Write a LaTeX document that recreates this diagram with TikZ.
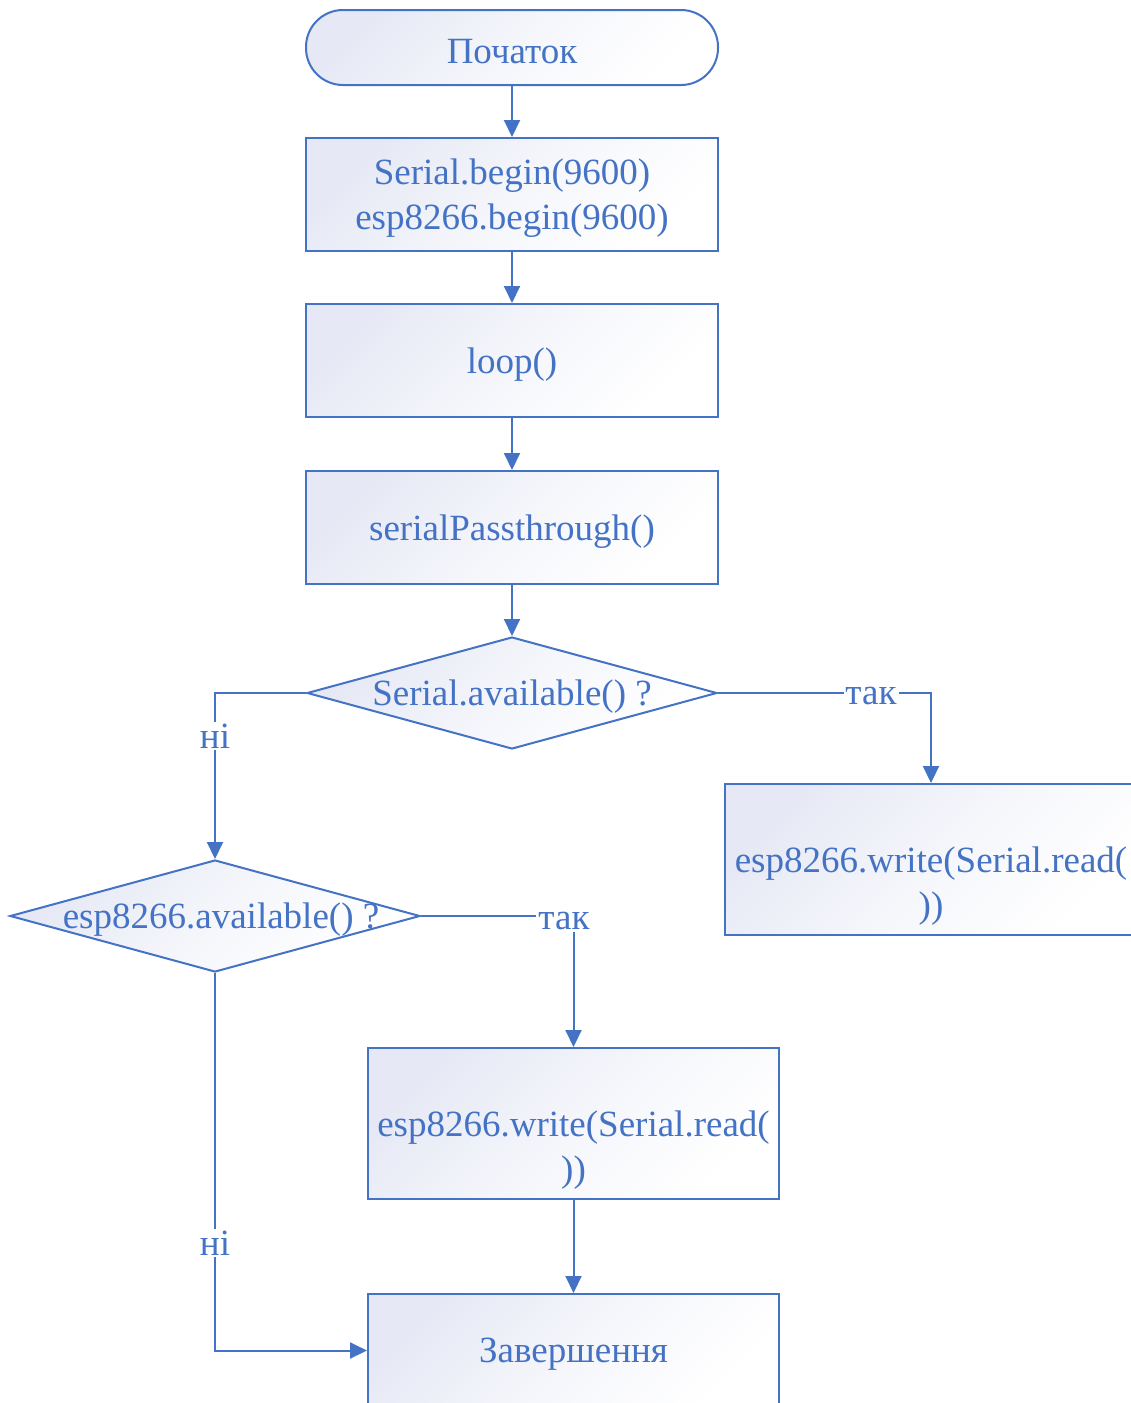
\documentclass[tikz,border=0pt]{standalone}
\usepackage{fontspec}
\setmainfont{Liberation Serif}
\usetikzlibrary{shapes.geometric,arrows.meta}
\definecolor{fcblue}{RGB}{68,114,196}
\definecolor{fcfill}{RGB}{230,233,245}
\begin{document}
\begin{tikzpicture}[x=1pt,y=1pt,
  txt/.style={text=fcblue,font=\fontsize{37}{45}\selectfont,align=center,inner sep=0pt},
  every label/.style={txt},
  shadebox/.style={draw=fcblue,line width=2pt,top color=fcfill,bottom color=white,middle color=white!60!fcfill,shading angle=45},
  procbox/.style={shadebox,rectangle,minimum width=412,minimum height=113},
  tallbox/.style={shadebox,rectangle,minimum width=412,minimum height=151},
  termbox/.style={shadebox,rectangle,rounded corners=37pt,minimum width=412,minimum height=75},
  decbox/.style={shadebox,diamond,minimum width=410,minimum height=112,inner sep=0pt},
  lbl/.style={txt,fill=white,inner sep=2pt},
  arr/.style={draw=fcblue,line width=2pt,-{Triangle[length=17pt,width=16pt]}}
]
\useasboundingbox (0,0) rectangle (1131,-1403);
\clip (0,0) rectangle (1131,-1403);
\fill[white] (0,0) rectangle (1131,-1403);

\node[termbox,label={[yshift=-4pt]center:Початок}] (start) at (512,-47.5) {};
\node[procbox,label={[yshift=-4pt]center:{Serial.begin(9600)\\esp8266.begin(9600)}}] (b1) at (512,-194.5) {};
\node[procbox,label={[yshift=-4pt]center:loop()}] (b2) at (512,-360.5) {};
\node[procbox,label={[yshift=-4pt]center:serialPassthrough()}] (b3) at (512,-527.5) {};
\node[decbox,label={[yshift=-4pt]center:Serial.available() ?}] (d1) at (512,-693) {};
\node[tallbox,label={[yshift=-26.5pt]center:{esp8266.write(Serial.read(\\))}}] (w1) at (931,-859.5) {};
\node[decbox,label={[xshift=6pt,yshift=-4pt]center:esp8266.available() ?}] (d2) at (215,-916) {};
\node[tallbox,minimum width=411,label={[yshift=-26.5pt]center:{esp8266.write(Serial.read(\\))}}] (w2) at (573.5,-1123.5) {};
\node[procbox,minimum width=411,label={[yshift=-4pt]center:Завершення}] (end) at (573.5,-1350.5) {};

\draw[arr] (start) -- (b1);
\draw[arr] (b1) -- (b2);
\draw[arr] (b2) -- (b3);
\draw[arr] (b3) -- (d1);
\draw[arr] (d1.west) -| (d2.north);
\draw[arr] (d1.east) -| (w1.north);
\draw[arr] (d2.east) -| (w2.north);
\draw[arr] (d2.south) |- (end.west);
\draw[arr] (w2) -- (end);

\node[lbl] (n1) at (215,-736) {ні};
\node[lbl] (y1) at (871,-696) {так};
\node[lbl] (y2) at (564,-921) {так};
\node[lbl] (n2) at (215,-1243) {ні};
\end{tikzpicture}
\end{document}
